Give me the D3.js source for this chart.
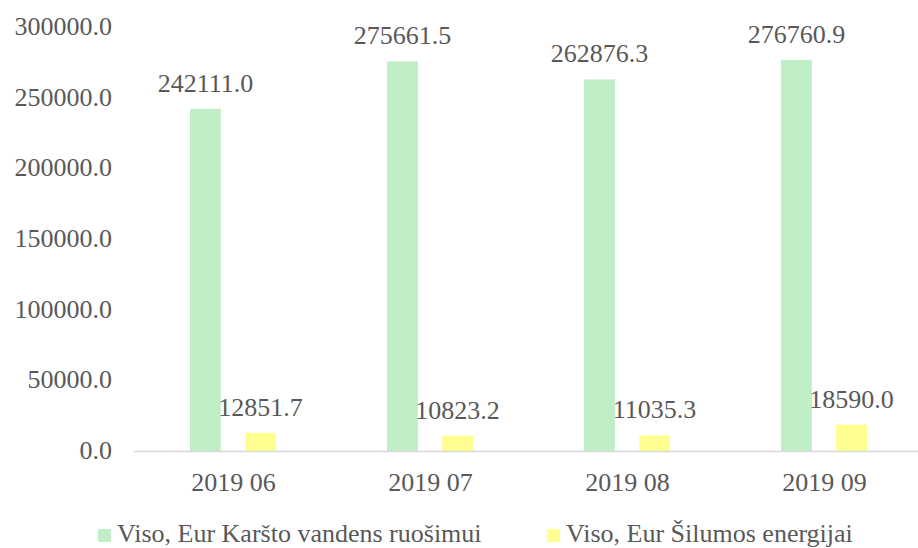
<!DOCTYPE html>
<html>
<head>
<meta charset="utf-8">
<title>Viso, Eur</title>
<script src="https://cdn.jsdelivr.net/npm/d3@7"></script>
</head>
<body style="margin:0">
<svg id="chart" width="918" height="548"></svg>
<script>
var months = ['2019 06', '2019 07', '2019 08', '2019 09'];
var seriesNames = ['Viso, Eur Karšto vandens ruošimui', 'Viso, Eur Šilumos energijai'];
var hotWater = [242111.0, 275661.5, 262876.3, 276760.9];
var heatEnergy = [12851.7, 10823.2, 11035.3, 18590.0];
var colors = ['#c0eec6', '#ffff8f'];
var yTicks = [0, 50000, 100000, 150000, 200000, 250000, 300000];

var svg = d3.select('#chart');

// every text gets the serif font set on itself
var label = function (sel) {
  return sel.attr('font-family', 'Liberation Serif')
    .style('font-family', "'Liberation Serif', Tinos, serif", 'important')
    .style('font-size', '26px')
    .attr('fill', '#595959');
};

var x0 = d3.scaleBand().domain(months).range([135, 923]);
var x1 = d3.scaleBand().domain(seriesNames).range([55, 141]).paddingInner(0.44);
var y = d3.scaleLinear().domain([0, 300000]).range([451, 27]);

// y labels (no axis line, no gridlines)
svg.selectAll('text.ylab').data(yTicks).enter().append('text')
  .attr('class', 'ylab')
  .attr('x', 112)
  .attr('y', function (d) { return y(d) + 8; })
  .attr('text-anchor', 'end')
  .call(label)
  .text(function (d) { return d.toFixed(1); });

var rows = [];
months.forEach(function (m, i) {
  [hotWater[i], heatEnergy[i]].forEach(function (v, j) {
    rows.push({ month: m, name: seriesNames[j], v: v, j: j });
  });
});
var bx = function (d) { return x0(d.month) + x1(d.name); };

svg.selectAll('rect.bar').data(rows).enter().append('rect')
  .attr('class', 'bar')
  .attr('x', bx)
  .attr('width', x1.bandwidth())
  .attr('y', function (d) { return y(d.v); })
  .attr('height', function (d) { return y(0) - y(d.v); })
  .attr('fill', function (d) { return colors[d.j]; });

svg.selectAll('text.val').data(rows).enter().append('text')
  .attr('class', 'val')
  .attr('x', function (d) { return bx(d) + x1.bandwidth() / 2; })
  .attr('y', function (d) { return y(d.v) - 17; })
  .attr('text-anchor', 'middle')
  .call(label)
  .text(function (d) { return d.v.toFixed(1); });

// baseline
svg.append('line')
  .attr('x1', 134).attr('x2', 918)
  .attr('y1', y(0) + 0.5).attr('y2', y(0) + 0.5)
  .attr('stroke', '#d9d9d9').attr('stroke-width', 1.5);

// category labels
svg.selectAll('text.cat').data(months).enter().append('text')
  .attr('class', 'cat')
  .attr('x', function (d) { return x0(d) + x0.bandwidth() / 2; })
  .attr('y', 491)
  .attr('text-anchor', 'middle')
  .call(label)
  .text(function (d) { return d; });

// legend
var legendX = [98, 547];
svg.selectAll('rect.key').data(seriesNames).enter().append('rect')
  .attr('class', 'key')
  .attr('x', function (d, i) { return legendX[i]; }).attr('y', 529)
  .attr('width', 13).attr('height', 13)
  .attr('fill', function (d, i) { return colors[i]; });
svg.selectAll('text.key').data(seriesNames).enter().append('text')
  .attr('class', 'key')
  .attr('x', function (d, i) { return legendX[i] + 19; }).attr('y', 542)
  .call(label)
  .text(function (d) { return d; });
</script>
</body>
</html>
